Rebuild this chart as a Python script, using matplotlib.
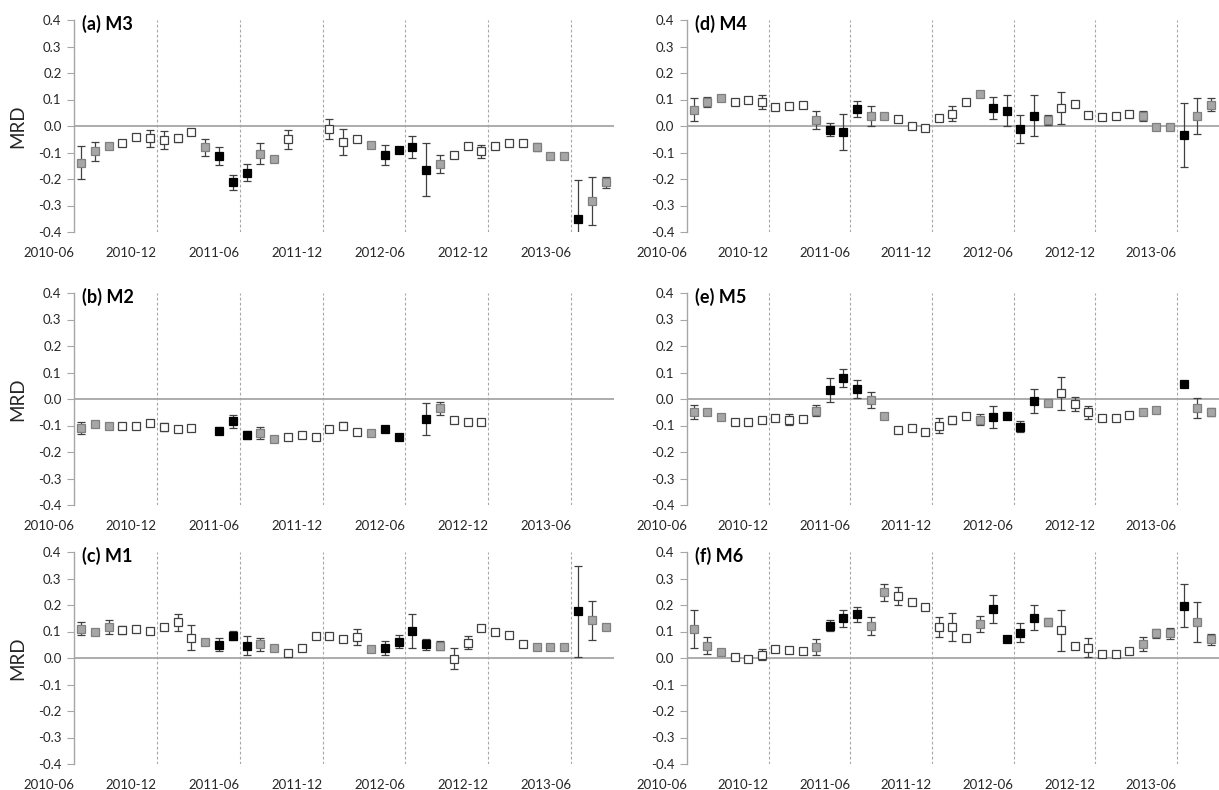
import matplotlib
matplotlib.use("Agg")
import matplotlib.pyplot as plt
import numpy as np

plt.rcParams['font.family'] = ['Lato', 'DejaVu Sans']

# Monthly series, first month = 2010-06; None = no retrieval that month
tick_labels = ['2010-06', '2010-12', '2011-06', '2011-12', '2012-06', '2012-12', '2013-06']
mrd_ticks = [-0.4, -0.3, -0.2, -0.1, 0.0, 0.1, 0.2, 0.3, 0.4]

# season class of each month: G = transition (grey), W = cold (white), B = warm (black)
season = ['G', 'G', 'G', 'W', 'W', 'W', 'W', 'W', 'W', 'G', 'B', 'B', 'B', 'G', 'G',
          'W', 'W', 'W', 'W', 'W', 'W', 'G', 'B', 'B', 'B', 'B', 'G',
          'W', 'W', 'W', 'W', 'W', 'W', 'G', 'G', 'G', 'B', 'G', 'G']

m3_mrd = [-0.138, -0.096, -0.077, -0.066, -0.041, -0.046, -0.052, -0.047, -0.024, -0.081,
          -0.113, -0.213, -0.176, -0.104, -0.123, -0.050, None, None, -0.012, -0.060,
          -0.050, -0.072, -0.110, -0.090, -0.079, -0.166, -0.144, -0.109, -0.077, -0.096,
          -0.077, -0.065, -0.065, -0.081, -0.115, -0.115, -0.352, -0.283, -0.213]
m3_err = [0.063, 0.036, 0.008, 0.005, 0.010, 0.032, 0.035, 0.012, 0.010, 0.032,
          0.035, 0.027, 0.033, 0.040, 0.004, 0.035, None, None, 0.038, 0.048,
          0.008, 0.008, 0.037, 0.010, 0.040, 0.100, 0.035, 0.006, 0.004, 0.024,
          0.005, 0.008, 0.005, 0.015, 0.004, 0.004, 0.148, 0.090, 0.020]

m2_mrd = [-0.109, -0.096, -0.103, -0.103, -0.100, -0.091, -0.104, -0.113, -0.108, None,
          -0.119, -0.084, -0.135, -0.129, -0.151, -0.144, -0.135, -0.144, -0.113, -0.100,
          -0.125, -0.128, -0.114, -0.142, None, -0.075, -0.035, -0.081, -0.088, -0.085,
          None, None, None, None, None, None, None, None, None]
m2_err = [0.024, 0.006, 0.006, 0.004, 0.004, 0.010, 0.015, 0.004, 0.004, None,
          0.012, 0.025, 0.015, 0.023, 0.004, 0.004, 0.004, 0.004, 0.012, 0.013,
          0.006, 0.005, 0.012, 0.004, None, 0.059, 0.025, 0.005, 0.005, 0.005,
          None, None, None, None, None, None, None, None, None]

m1_mrd = [0.111, 0.100, 0.117, 0.105, 0.111, 0.102, 0.117, 0.134, 0.077, 0.061,
          0.050, 0.084, 0.047, 0.052, 0.036, 0.019, 0.038, 0.084, 0.084, 0.070,
          0.079, 0.033, 0.038, 0.061, 0.102, 0.052, 0.047, -0.002, 0.058, 0.115,
          0.100, 0.087, 0.052, 0.040, 0.043, 0.042, 0.176, 0.142, 0.117]
m1_err = [0.025, 0.010, 0.025, 0.015, 0.005, 0.005, 0.008, 0.033, 0.047, 0.012,
          0.024, 0.017, 0.035, 0.025, 0.006, 0.012, 0.010, 0.005, 0.005, 0.010,
          0.030, 0.004, 0.026, 0.025, 0.064, 0.020, 0.017, 0.038, 0.025, 0.008,
          0.005, 0.008, 0.004, 0.005, 0.005, 0.005, 0.173, 0.073, 0.010]

m4_mrd = [0.062, 0.091, 0.105, 0.092, 0.099, 0.090, 0.073, 0.076, 0.080, 0.022,
          -0.014, -0.023, 0.063, 0.037, 0.039, 0.028, -0.001, -0.009, 0.029, 0.047,
          0.089, 0.119, 0.068, 0.058, -0.011, 0.039, 0.022, 0.068, 0.082, 0.041,
          0.033, 0.038, 0.047, 0.037, -0.005, -0.005, -0.035, 0.039, 0.081]
m4_err = [0.044, 0.020, 0.006, 0.004, 0.005, 0.027, 0.010, 0.005, 0.005, 0.035,
          0.025, 0.068, 0.030, 0.038, 0.008, 0.005, 0.004, 0.004, 0.012, 0.030,
          0.005, 0.005, 0.041, 0.058, 0.054, 0.077, 0.020, 0.060, 0.010, 0.005,
          0.005, 0.005, 0.005, 0.020, 0.004, 0.004, 0.120, 0.068, 0.025]

m5_mrd = [-0.048, -0.048, -0.067, -0.088, -0.086, -0.078, -0.072, -0.078, -0.076, -0.044,
          0.034, 0.081, 0.038, -0.004, -0.064, -0.116, -0.110, -0.124, -0.101, -0.078,
          -0.063, -0.078, -0.068, -0.063, -0.104, -0.006, -0.016, 0.021, -0.019, -0.050,
          -0.072, -0.072, -0.059, -0.048, -0.040, None, 0.057, -0.035, -0.048]
m5_err = [0.026, 0.006, 0.006, 0.004, 0.004, 0.010, 0.012, 0.020, 0.004, 0.020,
          0.046, 0.034, 0.035, 0.031, 0.010, 0.004, 0.004, 0.004, 0.029, 0.015,
          0.004, 0.020, 0.043, 0.013, 0.020, 0.045, 0.012, 0.063, 0.025, 0.025,
          0.004, 0.004, 0.004, 0.006, 0.004, None, 0.006, 0.037, 0.015]

m6_mrd = [0.109, 0.047, 0.023, 0.003, -0.005, 0.013, 0.033, 0.029, 0.025, 0.041,
          0.122, 0.150, 0.165, 0.121, 0.248, 0.234, 0.210, 0.194, 0.118, 0.118,
          0.076, 0.128, 0.185, 0.072, 0.095, 0.152, 0.135, 0.104, 0.046, 0.039,
          0.015, 0.015, 0.027, 0.053, 0.093, 0.093, 0.198, 0.137, 0.070]
m6_err = [0.072, 0.033, 0.005, 0.004, 0.004, 0.020, 0.005, 0.004, 0.004, 0.030,
          0.020, 0.032, 0.028, 0.033, 0.032, 0.035, 0.005, 0.005, 0.038, 0.052,
          0.005, 0.029, 0.052, 0.008, 0.036, 0.048, 0.015, 0.079, 0.012, 0.036,
          0.004, 0.004, 0.005, 0.027, 0.018, 0.020, 0.080, 0.076, 0.022]

panels = [
    ('(a) M3', m3_mrd, m3_err, 0, 0),
    ('(b) M2', m2_mrd, m2_err, 1, 0),
    ('(c) M1', m1_mrd, m1_err, 2, 0),
    ('(d) M4', m4_mrd, m4_err, 0, 1),
    ('(e) M5', m5_mrd, m5_err, 1, 1),
    ('(f) M6', m6_mrd, m6_err, 2, 1),
]

styles = {
    'G': dict(mfc='#a6a6a6', mec='#7f7f7f'),
    'W': dict(mfc='white', mec='#404040'),
    'B': dict(mfc='black', mec='black'),
}

W, H = 1219, 790
fig = plt.figure(figsize=(W / 100, H / 100), dpi=100)

col_left = [74, 687]
col_width = [540, 532]
row_top = [20, 293, 552]
row_h = 212

grey = '#a6a6a6'
text_c = '#262626'

for title, vals, errs, r, c in panels:
    rect = [col_left[c] / W, 1 - (row_top[r] + row_h) / H, col_width[c] / W, row_h / H]
    ax = fig.add_axes(rect)
    ax.set_xlim(0, 39.1)
    ax.set_ylim(-0.4, 0.4)

    x = np.arange(len(vals)) + 0.5
    y = np.array([np.nan if v is None else v for v in vals], dtype=float)
    e = np.array([np.nan if v is None else v for v in errs], dtype=float)

    # season boundaries and zero line
    for xv in range(6, 37, 6):
        ax.axvline(xv, color=grey, lw=0.8, ls=(0, (2.5, 2)), zorder=1)
    ax.axhline(0, color=grey, lw=1.3, zorder=1)

    ok = ~np.isnan(y)
    ax.errorbar(x[ok], y[ok], yerr=e[ok], fmt='none', ecolor='#404040',
                elinewidth=0.9, capsize=3.2, capthick=0.9, zorder=2)
    for s, st in styles.items():
        sel = np.array([season[i] == s for i in range(len(vals))]) & ok
        ax.plot(x[sel], y[sel], ls='none', marker='s', ms=6.4, mew=0.9, zorder=3, **st)

    for side in ('top', 'right', 'bottom'):
        ax.spines[side].set_visible(False)
    ax.spines['left'].set_color(grey)
    ax.spines['left'].set_linewidth(1.0)

    ax.set_yticks(mrd_ticks)
    ax.set_yticklabels([f'{v:.1f}' for v in mrd_ticks])
    ax.tick_params(axis='y', direction='out', length=5, width=0.8, color=grey,
                   pad=4, labelsize=9.5, labelcolor=text_c)

    ax.set_xticks(range(0, 37, 6))
    ax.set_xticklabels(tick_labels, ha='right')
    ax.tick_params(axis='x', length=0, pad=11, labelsize=9.5, labelcolor=text_c)

    ax.annotate(title, xy=(0, 1), xycoords='axes fraction', xytext=(6, -3),
                textcoords='offset points', ha='left', va='center',
                fontsize=13, fontweight='bold', color='black')

    if c == 0:
        yc = 1 - (row_top[r] + row_h / 2) / H
        fig.text(17.5 / W, yc, 'MRD', rotation=90, ha='center', va='center',
                 fontsize=13.5, color=text_c)

fig.savefig('out.png', dpi=100)
